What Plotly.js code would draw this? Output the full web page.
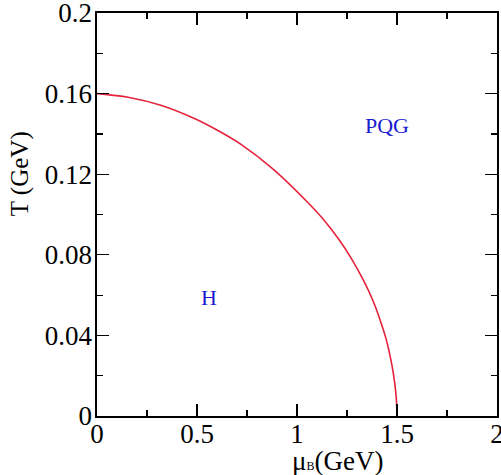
<!DOCTYPE html>
<html>
<head>
<meta charset="utf-8">
<script src="https://cdn.plot.ly/plotly-3.0.1.min.js"></script>
<style>
  html, body { margin: 0; padding: 0; background: #fff; }
  #chart { width: 501px; height: 475px; }
</style>
</head>
<body>
<div id="chart"></div>
<script>
// Phase boundary between hadron gas (H) and quark-gluon plasma (PQG)
const muB = [0, 0.155, 0.323, 0.49, 0.6, 0.72, 0.882, 1.048, 1.13, 1.207, 1.27, 1.332, 1.38, 1.415, 1.445, 1.465, 1.48, 1.49, 1.497, 1.5];
const temp = [0.160, 0.1582, 0.1541, 0.1475, 0.1419, 0.1348, 0.1224, 0.1066, 0.0978, 0.0880, 0.0785, 0.0674, 0.0572, 0.0478, 0.0384, 0.0300, 0.0222, 0.0152, 0.0080, 0.0];

// Region labels
const regionNames = ['H', 'PQG'];
const regionMu = [0.56, 1.4475];
const regionT = [0.0588, 0.1444];

// Axis ticks
const xTickVals = [0, 0.5, 1, 1.5, 2];
const xTickText = ['0', '0.5', '1', '1.5', '2'];
const yTickVals = [0, 0.04, 0.08, 0.12, 0.16, 0.2];
const yTickText = ['0', '0.04', '0.08', '0.12', '0.16', '0.2'];

const serif = "'Liberation Serif', 'Times New Roman', serif";

const traces = [{
  x: muB,
  y: temp,
  type: 'scatter',
  mode: 'lines',
  line: { color: '#e5223c', width: 1.6, shape: 'spline', smoothing: 0.8 },
  hoverinfo: 'skip',
  showlegend: false
}];

const axisCommon = {
  showline: true,
  linecolor: '#000',
  linewidth: 1.6,
  mirror: 'ticks',
  ticks: 'inside',
  ticklen: 12,
  tickwidth: 1.2,
  tickcolor: '#000',
  showgrid: false,
  zeroline: false,
  ticklabeloverflow: 'allow',
  tickfont: { family: serif, size: 27, color: '#000' },
  fixedrange: true
};

const layout = {
  width: 501,
  height: 475,
  margin: { l: 97, r: 4, t: 13, b: 59 },
  paper_bgcolor: '#fff',
  plot_bgcolor: '#fff',
  showlegend: false,
  xaxis: Object.assign({}, axisCommon, {
    range: [0, 2],
    tickmode: 'array',
    tickvals: xTickVals,
    ticktext: xTickText,
    ticklabelstandoff: -7,
    minor: { dtick: 0.25, ticklen: 6, tickwidth: 1.2, tickcolor: '#000', ticks: 'inside' }
  }),
  yaxis: Object.assign({}, axisCommon, {
    range: [0, 0.2],
    tickmode: 'array',
    tickvals: yTickVals,
    ticktext: yTickText,
    ticklabelstandoff: -2,
    minor: { dtick: 0.02, ticklen: 6, tickwidth: 1.2, tickcolor: '#000', ticks: 'inside' }
  }),
  annotations: [
    {
      text: 'μ<span style="font-size:12px">B</span>(GeV)',
      xref: 'paper', yref: 'paper',
      x: 0.601, y: 0, yshift: -45,
      xanchor: 'center', yanchor: 'middle',
      showarrow: false,
      font: { family: serif, size: 27, color: '#000' }
    },
    {
      text: 'T (GeV)',
      xref: 'paper', yref: 'paper',
      x: 0, xshift: -77, y: 0.6,
      xanchor: 'center', yanchor: 'middle',
      textangle: -90,
      showarrow: false,
      font: { family: serif, size: 25, color: '#000' }
    }
  ].concat(regionNames.map((name, i) => ({
    text: name,
    x: regionMu[i], y: regionT[i],
    xref: 'x', yref: 'y',
    xanchor: 'center', yanchor: 'middle',
    showarrow: false,
    font: { family: serif, size: 22, color: '#1a1ad0' }
  })))
};

Plotly.newPlot('chart', traces, layout, { displayModeBar: false, staticPlot: true });
</script>
</body>
</html>
